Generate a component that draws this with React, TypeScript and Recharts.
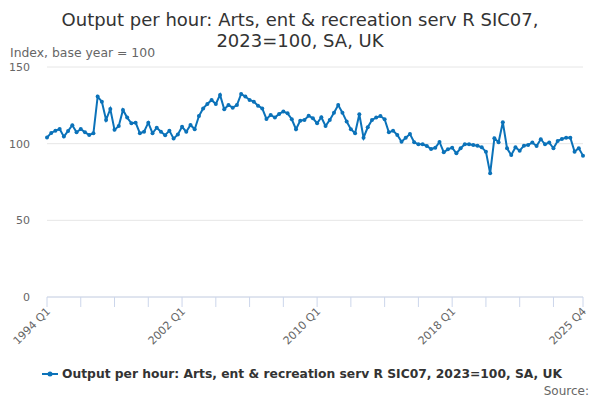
import { LineChart, Line, XAxis, YAxis, CartesianGrid } from "recharts";

const START_YEAR = 1994;

// Index values, quarter by quarter
const values1994to2001 = [
  104, 107, 108.5, 109.6, 104.6, 108.3, 112, 107.4, 109.6, 107.4, 105.7, 106.8,
  130.7, 127.4, 115.5, 122.6, 109, 111.5, 122, 117, 113.3, 113.7, 106.8, 107.8,
  113.7, 106.8, 110.4, 107.8, 105.5, 108.5, 103.3, 106,
];
const values2002to2009 = [
  111, 107.8, 112.2, 109.4, 118, 123, 125.9, 128.5, 125.9, 131.8, 122.4, 125.2,
  123.5, 125.2, 132.4, 130.7, 128.5, 127.4, 124.8, 123, 116.1, 118.7, 117, 119.4,
  120.9, 119.8, 115.9, 109.4, 115, 115.5, 118.2, 116.5,
];
const values2010to2017 = [
  113.3, 117.2, 111.5, 115.5, 120.2, 125.2, 120.2, 114.4, 109.4, 106.8, 119.2, 103.9,
  110.7, 115.5, 117, 118, 115.9, 107.4, 108.5, 105.7, 101.3, 103.9, 106.3, 100.9,
  99.6, 99.6, 98.5, 96.5, 97.3, 101.1, 94.4, 96.3,
];
const values2018to2025 = [
  97.4, 93.7, 97, 99.6, 99.6, 99.2, 98.7, 97.6, 94.8, 80.7, 103.5, 100.9,
  114, 97, 92.6, 97.6, 95.4, 98.7, 99.2, 100.7, 98.5, 102.9, 99.6, 100.7,
  97, 101.8, 103.1, 103.9, 103.9, 94.8, 97, 92.2,
];

const values = [
  ...values1994to2001,
  ...values2002to2009,
  ...values2010to2017,
  ...values2018to2025,
];

const quarters = values.map(
  (_, i) => `${START_YEAR + Math.floor(i / 4)} Q${(i % 4) + 1}`,
);

const xTickIndexes = [0, 8, 16, 24, 32, 40, 48, 56, 64, 72, 80, 88, 96, 104, 112, 120, 127];
const xLabelIndexes = [0, 32, 64, 96, 127];
const yTicks = [0, 50, 100, 150];

const SERIES_NAME = "Output per hour: Arts, ent & recreation serv R SIC07, 2023=100, SA, UK";
const TITLE_LINES = ["Output per hour: Arts, ent & recreation serv R SIC07,", "2023=100, SA, UK"];
const BLUE = "#0b72b9";
const FONT = "'DejaVu Sans', Verdana, sans-serif";

const data = values.map((v, i) => ({ i, quarter: quarters[i], value: v }));

function XTick(props: any) {
  const { x, payload } = props;
  const idx = payload.value as number;
  if (!xLabelIndexes.includes(idx)) return null;
  const tx = x + 4;
  const ty = 312;
  return (
    <text
      x={tx}
      y={ty}
      transform={`rotate(-45 ${tx} ${ty})`}
      textAnchor="end"
      fill="#666666"
      fontSize={11}
      fontFamily={FONT}
    >
      {quarters[idx]}
    </text>
  );
}

function YTick(props: any) {
  const { y, payload } = props;
  return (
    <text x={30} y={y + 4} textAnchor="end" fill="#666666" fontSize={11} fontFamily={FONT}>
      {payload.value}
    </text>
  );
}

export default function App() {
  return (
    <div style={{ position: "absolute", left: 0, top: 0, width: 600, height: 400, background: "#fff" }}>
      <LineChart
        width={600}
        height={400}
        data={data}
        margin={{ top: 67, right: 17, bottom: 73, left: 0 }}
      >
        <CartesianGrid vertical={false} stroke="#e6e6e6" />
        <XAxis
          dataKey="i"
          type="number"
          domain={[0, values.length - 1]}
          ticks={xTickIndexes}
          interval={0}
          height={30}
          tick={<XTick />}
          tickSize={10}
          tickLine={{ stroke: "#ccd6eb" }}
          axisLine={{ stroke: "#ccd6eb" }}
        />
        <YAxis
          domain={[0, 150]}
          ticks={yTicks}
          width={47}
          tick={<YTick />}
          tickLine={false}
          axisLine={false}
        />
        <Line
          type="linear"
          dataKey="value"
          stroke={BLUE}
          strokeWidth={2}
          dot={{ r: 2, fill: BLUE, stroke: BLUE, strokeWidth: 0 }}
          isAnimationActive={false}
        />
      </LineChart>
      <svg
        width={600}
        height={400}
        style={{ position: "absolute", left: 0, top: 0, pointerEvents: "none" }}
        fontFamily={FONT}
      >
        <text x={300} y={26} textAnchor="middle" fontSize={18} fill="#333333">
          {TITLE_LINES[0]}
        </text>
        <text x={300} y={47} textAnchor="middle" fontSize={18} fill="#333333">
          {TITLE_LINES[1]}
        </text>
        <text x={10} y={57} fontSize={12.4} fill="#666666">
          Index, base year = 100
        </text>
        <line x1={42} y1={374} x2={58} y2={374} stroke={BLUE} strokeWidth={2} />
        <circle cx={50} cy={374} r={2.5} fill={BLUE} />
        <text x={62} y={378} fontSize={12.3} fontWeight="bold" fill="#333333">
          {SERIES_NAME}
        </text>
        <text x={589} y={395} textAnchor="end" fontSize={12} fill="#666666">
          Source:
        </text>
      </svg>
    </div>
  );
}
